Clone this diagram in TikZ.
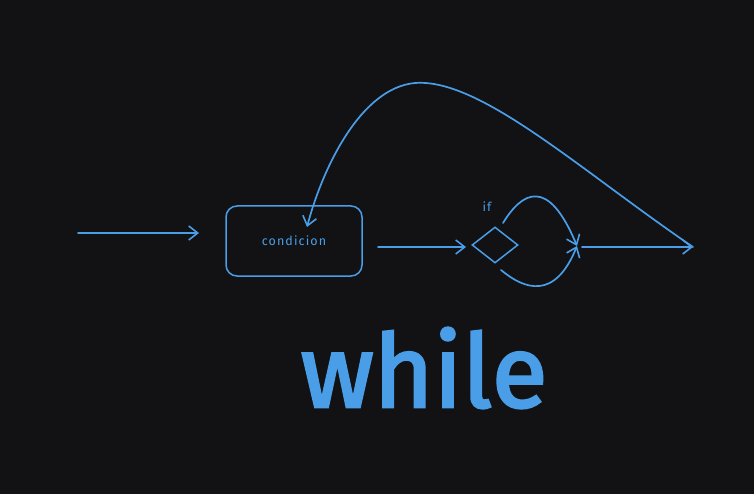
\documentclass[tikz,border=0pt]{standalone}
\usepackage{fontspec}
\setmainfont{Fira Sans}
\newfontfamily\wfont[FakeBold=2.5]{Fira Sans}
\usetikzlibrary{arrows.meta,shapes.geometric}
\definecolor{bg}{HTML}{121214}
\definecolor{ink}{HTML}{4A9EE8}
\begin{document}
\begin{tikzpicture}[x=1pt,y=-1pt,
  line/.style={draw=ink,line width=1.7pt,line cap=round,line join=round},
  arr/.style={line,-{Straight Barb[length=9pt,width=14pt,line width=1.6pt]}},
  box/.style={draw=ink,line width=1.5pt,rounded corners=11pt,minimum width=136pt,minimum height=70pt,inner sep=0pt},
  dia/.style={draw=ink,line width=1.5pt,diamond,minimum width=46pt,minimum height=36pt,inner sep=0pt},
  lbl/.style={text=ink,font=\fontsize{12.5}{14}\selectfont\addfontfeature{LetterSpace=9}}]
\fill[bg] (0,0) rectangle (754,494);
\useasboundingbox (0,0) rectangle (754,494);
\coordinate (s) at (78,233);
\coordinate (se) at (199,233);
\node[box] (c) at (294,241) {};
\node[lbl] (ct) at (294,241) {condicion};
\coordinate (c1) at (378,247);
\coordinate (c2) at (466,247);
\node[dia] (d) at (495,245) {};
\node[lbl] (iflbl) at (487,207) {if};
\coordinate (j) at (577,246);
\coordinate (jo) at (582,247);
\coordinate (e) at (693,247);
\coordinate (ct0) at (307,227);
\coordinate (t0) at (503,223);
\coordinate (b0) at (501,270);
\draw[arr] (s) -- (se);
\draw[arr] (c1) -- (c2);
\draw[arr] (t0) .. controls (522,192) and (548,176) .. (j);
\draw[arr] (b0) .. controls (525,290) and (555,300) .. (j);
\draw[arr] (jo) -- (e);
\draw[arr] (e) .. controls (580,170) and (480,78) .. (415,83) .. controls (360,88) and (322,170) .. (ct0);
\node[text=ink,font=\wfont\fontsize{102}{110}\selectfont] (w) at (424,368) {while};
\end{tikzpicture}
\end{document}
